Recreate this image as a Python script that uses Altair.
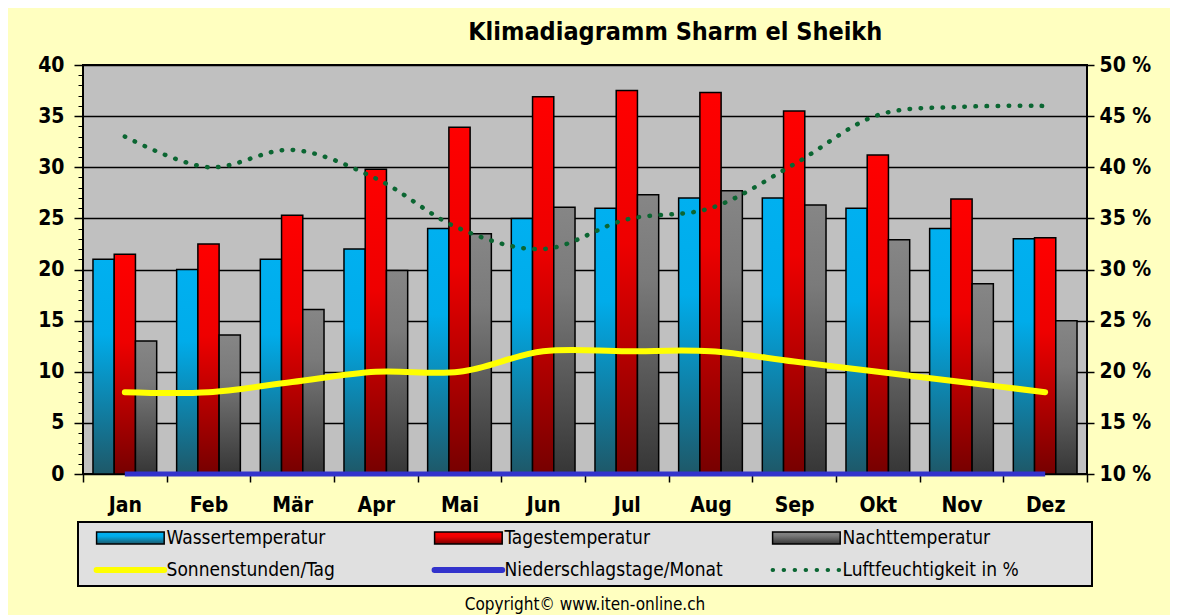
import altair as alt
import pandas as pd

months = ["Jan", "Feb", "Mär", "Apr", "Mai", "Jun", "Jul", "Aug", "Sep", "Okt", "Nov", "Dez"]
wasser = [21, 20, 21, 22, 24, 25, 26, 27, 27, 26, 24, 23]
tages = [21.5, 22.5, 25.3, 29.8, 33.9, 36.9, 37.5, 37.3, 35.5, 31.2, 26.9, 23.1]
nacht = [13.0, 13.6, 16.1, 19.9, 23.5, 26.1, 27.3, 27.7, 26.3, 22.9, 18.6, 15.0]
sonne = [8, 8, 9, 10, 10, 12, 12, 12, 11, 10, 9, 8]
regen = [0, 0, 0, 0, 0, 0, 0, 0, 0, 0, 0, 0]
feuchte = [43, 40, 41.7, 38.9, 34, 32, 34.9, 36, 40.3, 45.1, 45.9, 46]

bar_series = ["Wassertemperatur", "Tagestemperatur", "Nachttemperatur"]
line_series = ["Sonnenstunden/Tag", "Niederschlagstage/Monat", "Luftfeuchtigkeit in %"]

FONT = "Liberation Sans Narrow, DejaVu Sans Condensed, Arial Narrow, sans-serif"

def grad(stops):
    return alt.LinearGradient(
        gradient="linear",
        stops=[alt.GradientStop(offset=o, color=c) for o, c in stops],
        x1=0, x2=0, y1=0, y2=1,
    )

gradients = {
    "Wassertemperatur": grad([(0, "#00B0F0"), (0.35, "#00ACEA"), (1, "#1E5868")]),
    "Tagestemperatur": grad([(0, "#FF0000"), (0.4, "#EE0000"), (1, "#760000")]),
    "Nachttemperatur": grad([(0, "#868686"), (0.3, "#7A7A7A"), (1, "#363636")]),
}

bars_df = pd.DataFrame({
    "Monat": months * 3,
    "Serie": sum([[s] * 12 for s in bar_series], []),
    "Wert": wasser + tages + nacht,
})
lines_df = pd.DataFrame({
    "Monat": months,
    "Sonne": sonne,
    "Regen": regen,
    "Feuchte": feuchte,
})

x_enc = alt.X(
    "Monat:N", sort=months, title=None,
    scale=alt.Scale(paddingInner=0, paddingOuter=0),
    axis=alt.Axis(
        labelAngle=0, labelFontSize=21, labelFontWeight="bold", labelFont=FONT,
        labelColor="black", tickBand="extent", tickSize=8, tickColor="black",
        tickWidth=1.5, domain=False, labelPadding=12,
    ),
)
xoff = alt.XOffset(
    "Serie:N", sort=bar_series,
    scale=alt.Scale(domain=bar_series, paddingInner=0, paddingOuter=0.47),
)

left_axis = alt.Axis(
    values=list(range(0, 41, 5)), grid=True, gridColor="black", gridWidth=1.5,
    gridOpacity=1, tickSize=9, tickColor="black", tickWidth=1.5, domain=False,
    labelFontSize=21, labelFontWeight="bold", labelFont=FONT, labelColor="black",
    labelPadding=10, title=None,
)
minor_axis = alt.Axis(
    values=list(range(0, 41)), grid=False, tickSize=5, tickColor="black",
    tickWidth=1, domain=False, labels=False, title=None, orient="left",
)
right_axis = alt.Axis(
    values=list(range(10, 51, 5)), grid=False, tickSize=7, tickColor="black",
    tickWidth=1.5, domain=False, labelFontSize=21, labelFontWeight="bold",
    labelFont=FONT, labelColor="black", labelPadding=5, title=None,
    orient="right", labelExpr="datum.value + ' %'",
)

bar_layers = []
for i, s in enumerate(bar_series):
    bar_layers.append(
        alt.Chart(bars_df).transform_filter(alt.datum.Serie == s)
        .mark_bar(fill=gradients[s], stroke="black", strokeWidth=1.5)
        .encode(
            x=x_enc, xOffset=xoff,
            y=alt.Y("Wert:Q", scale=alt.Scale(domain=[0, 40], nice=False),
                    axis=left_axis if i == 0 else None),
        )
    )

sun = alt.Chart(lines_df).mark_line(
    color="#FFFF00", strokeWidth=6, interpolate="catmull-rom", strokeCap="round"
).encode(
    x=x_enc,
    y=alt.Y("Sonne:Q", scale=alt.Scale(domain=[0, 40], nice=False), axis=minor_axis),
)
rain = alt.Chart(lines_df).mark_line(
    color="#3333CC", strokeWidth=5, strokeCap="butt"
).encode(
    x=x_enc,
    y=alt.Y("Regen:Q", scale=alt.Scale(domain=[0, 40], nice=False), axis=None),
)
hum = alt.Chart(lines_df).mark_line(
    color="#0B6632", strokeWidth=4.5, strokeCap="round", strokeDash=[0.5, 10.5],
    interpolate="catmull-rom",
).encode(
    x=x_enc,
    y=alt.Y("Feuchte:Q", scale=alt.Scale(domain=[10, 50], nice=False), axis=right_axis),
)

main = alt.layer(*bar_layers, sun, rain, hum).resolve_scale(y="independent").properties(
    width=1004, height=409,
    view=alt.ViewBackground(fill="#C0C0C0", stroke="black", strokeWidth=2),
)

# legend panel
all_series = bar_series + line_series
leg_df = pd.DataFrame({
    "Serie": all_series,
    "col": [0, 1, 2, 0, 1, 2],
    "row": [0, 0, 0, 1, 1, 1],
})
leg_df["xs"] = leg_df["col"] + 0.055
leg_df["xe"] = leg_df["col"] + 0.255
leg_df["xt"] = leg_df["col"] + 0.262
leg_df["yc"] = leg_df["row"] + 0.5
leg_df["y0"] = leg_df["row"] + 0.31
leg_df["y1"] = leg_df["row"] + 0.69

lx = alt.Scale(domain=[0, 3], nice=False, zero=False)
ly = alt.Scale(domain=[0, 2], nice=False, zero=False, reverse=True)

leg_layers = []
for s in bar_series:
    leg_layers.append(
        alt.Chart(leg_df).transform_filter(alt.datum.Serie == s)
        .mark_rect(fill=gradients[s], stroke="black", strokeWidth=1.5)
        .encode(x=alt.X("xs:Q", scale=lx, axis=None), x2="xe:Q",
                y=alt.Y("y0:Q", scale=ly, axis=None), y2="y1:Q")
    )
line_styles = {
    "Sonnenstunden/Tag": dict(stroke="#FFFF00", strokeWidth=6, strokeCap="round"),
    "Niederschlagstage/Monat": dict(stroke="#3333CC", strokeWidth=6, strokeCap="round"),
    "Luftfeuchtigkeit in %": dict(stroke="#0B6632", strokeWidth=4, strokeCap="round",
                                  strokeDash=[0.5, 10.5]),
}
for s in line_series:
    leg_layers.append(
        alt.Chart(leg_df).transform_filter(alt.datum.Serie == s)
        .mark_rule(**line_styles[s])
        .encode(x=alt.X("xs:Q", scale=lx, axis=None), x2="xe:Q",
                y=alt.Y("yc:Q", scale=ly, axis=None))
    )
leg_layers.append(
    alt.Chart(leg_df).mark_text(
        align="left", baseline="middle", font=FONT, fontSize=19, color="black"
    ).encode(x=alt.X("xt:Q", scale=lx, axis=None),
             y=alt.Y("yc:Q", scale=ly, axis=None), text="Serie:N")
)

legend = alt.layer(*leg_layers).properties(
    width=1014, height=64,
    view=alt.ViewBackground(fill="#E0E0E0", stroke="black", strokeWidth=2),
    title=alt.TitleParams(
        "Copyright© www.iten-online.ch", orient="bottom", anchor="middle",
        font=FONT, fontSize=17, fontWeight="normal", color="black", offset=11,
    ),
)

chart = alt.vconcat(main, legend, spacing=48, bounds="flush", center=True).properties(
    title=alt.TitleParams(
        "Klimadiagramm Sharm el Sheikh", anchor="middle", font=FONT, fontSize=25,
        fontWeight="bold", color="black", dx=81, offset=8,
    ),
    padding={"left": 28, "top": 12, "right": 18, "bottom": 2},
).configure(background="#FFFFC0")

chart.save("out.html", embed_options={"renderer": "svg", "actions": False})
